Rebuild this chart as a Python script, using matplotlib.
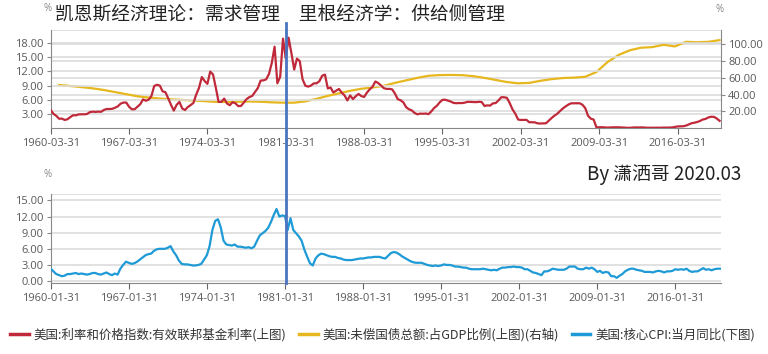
import numpy as np
import pandas as pd
import matplotlib
matplotlib.use('Agg')
import matplotlib.pyplot as plt
from matplotlib.lines import Line2D

plt.rcParams['font.family'] = ['Noto Sans CJK SC', 'DejaVu Sans']

# Effective federal funds rate, quarter-end months (%), 1960Q1 - 2019Q4
ffr = [3.84, 3.00, 2.60, 1.98, 2.02, 1.73, 1.88, 2.33, 2.72, 2.71, 2.90, 2.93,
       2.92, 2.99, 3.38, 3.48, 3.43, 3.49, 3.45, 3.85, 4.04, 4.04, 4.08, 4.32,
       4.60, 5.17, 5.40, 5.40, 4.53, 3.98, 3.99, 4.51, 5.05, 6.07, 5.78, 6.02,
       6.79, 8.90, 9.15, 8.97, 7.76, 7.60, 6.29, 4.90, 3.71, 4.91, 5.55, 4.14,
       3.83, 4.46, 4.87, 5.33, 7.09, 8.49, 10.78, 9.95, 9.35, 11.93, 11.34, 8.53,
       5.54, 5.55, 6.24, 5.20, 4.84, 5.48, 5.25, 4.65, 4.69, 5.39, 6.14, 6.56,
       6.79, 7.60, 8.45, 10.03, 10.09, 10.29, 11.43, 13.78, 17.19, 9.47, 10.87, 18.90,
       14.70, 19.10, 15.87, 12.37, 14.68, 14.15, 10.31, 8.95, 8.77, 8.98, 9.45, 9.47,
       9.91, 11.06, 11.30, 8.38, 8.58, 7.53, 7.92, 8.27, 7.48, 6.92, 5.85, 6.91,
       6.13, 6.73, 7.22, 6.77, 6.58, 7.51, 8.19, 8.76, 9.85, 9.53, 9.02, 8.45,
       8.28, 8.29, 8.20, 7.31, 6.12, 5.90, 5.45, 4.43, 3.98, 3.76, 3.22, 2.92,
       3.07, 3.04, 3.09, 2.96, 3.53, 4.25, 4.73, 5.45, 5.98, 6.00, 5.80, 5.60,
       5.31, 5.27, 5.30, 5.29, 5.39, 5.56, 5.54, 5.50, 5.49, 5.56, 5.51, 4.68,
       4.81, 4.76, 5.22, 5.30, 5.85, 6.53, 6.52, 6.40, 5.31, 3.97, 3.07, 1.82,
       1.73, 1.75, 1.75, 1.24, 1.25, 1.22, 1.01, 0.98, 1.00, 1.03, 1.61, 2.16,
       2.63, 3.04, 3.62, 4.16, 4.59, 4.99, 5.25, 5.24, 5.26, 5.25, 4.94, 4.24,
       2.61, 2.00, 1.81, 0.16, 0.18, 0.21, 0.15, 0.12, 0.16, 0.18, 0.19, 0.18,
       0.14, 0.09, 0.08, 0.07, 0.13, 0.16, 0.14, 0.16, 0.14, 0.09, 0.08, 0.09,
       0.08, 0.10, 0.09, 0.12, 0.11, 0.13, 0.14, 0.24, 0.36, 0.38, 0.40, 0.54,
       0.79, 1.04, 1.15, 1.30, 1.51, 1.82, 1.95, 2.27, 2.41, 2.38, 2.04, 1.55]

# Federal debt / GDP (%), year end, 1960 - 2019
debt = [51.5, 50.3, 49.0, 47.5, 45.5, 43.0, 40.5, 38.0, 36.5, 35.3,
        34.4, 33.7, 33.0, 32.2, 31.3, 31.2, 31.5, 31.8, 31.5, 30.8,
        30.4, 30.4, 32.0, 35.0, 38.5, 41.5, 44.5, 47.0, 48.5, 50.5,
        54.0, 57.0, 60.0, 62.5, 63.3, 63.5, 63.2, 62.0, 60.0, 57.5,
        55.0, 53.5, 54.0, 56.5, 58.5, 59.8, 60.3, 61.3, 67.0, 79.0,
        87.5, 93.0, 96.0, 96.7, 99.5, 97.5, 103.0, 102.5, 103.0, 105.0]

# Core CPI yoy (%), every third month from 1960-01 to 2020-01
cpi = [2.3, 1.8, 1.3, 1.1, 0.9, 1.0, 1.3, 1.3, 1.4, 1.5, 1.3, 1.4,
       1.3, 1.2, 1.3, 1.5, 1.5, 1.3, 1.2, 1.4, 1.6, 1.3, 1.1, 1.4,
       1.2, 2.3, 3.0, 3.6, 3.4, 3.2, 3.3, 3.6, 4.0, 4.4, 4.8, 5.0,
       5.1, 5.6, 5.9, 6.0, 6.0, 6.0, 6.2, 6.5, 5.5, 4.8, 3.8, 3.2,
       3.1, 3.1, 3.0, 2.9, 2.9, 3.0, 3.2, 4.0, 4.8, 6.5, 9.5, 11.2,
       11.5, 10.0, 7.5, 6.8, 6.7, 6.6, 6.8, 6.4, 6.4, 6.3, 6.2, 6.3,
       6.1, 6.4, 7.5, 8.5, 8.9, 9.3, 9.9, 11.0, 12.3, 13.4, 12.0, 12.2,
       12.1, 9.5, 11.7, 9.5, 8.9, 8.3, 7.5, 5.8, 4.5, 3.3, 2.9, 4.2,
       4.8, 5.1, 5.0, 4.8, 4.6, 4.5, 4.5, 4.3, 4.2, 4.0, 3.9, 3.9,
       3.9, 4.0, 4.1, 4.2, 4.2, 4.3, 4.4, 4.4, 4.5, 4.5, 4.5, 4.3,
       4.2, 4.7, 5.2, 5.4, 5.3, 5.0, 4.6, 4.3, 4.0, 3.7, 3.5, 3.4,
       3.4, 3.4, 3.2, 3.0, 2.9, 2.8, 2.9, 2.8, 2.9, 3.1, 3.0, 3.0,
       2.9, 2.7, 2.7, 2.6, 2.5, 2.5, 2.3, 2.2, 2.2, 2.2, 2.2, 2.3,
       2.2, 2.1, 2.0, 2.1, 2.0, 2.3, 2.5, 2.5, 2.6, 2.6, 2.7, 2.6,
       2.6, 2.5, 2.2, 2.2, 1.9, 1.6, 1.5, 1.3, 1.1, 1.8, 1.8, 2.0,
       2.3, 2.2, 2.1, 2.1, 2.1, 2.3, 2.7, 2.7, 2.7, 2.3, 2.2, 2.2,
       2.5, 2.3, 2.5, 2.2, 1.7, 1.9, 1.5, 1.7, 1.6, 0.9, 0.9, 0.6,
       1.0, 1.3, 1.8, 2.1, 2.3, 2.3, 2.1, 2.0, 1.9, 1.7, 1.7, 1.7,
       1.6, 1.8, 1.9, 1.8, 1.6, 1.8, 1.8, 1.9, 2.2, 2.1, 2.2, 2.1,
       2.3, 1.9, 1.7, 1.8, 1.8, 2.1, 2.4, 2.1, 2.2, 2.0, 2.2, 2.3, 2.3]

top_ticks = ['1960-03-31', '1967-03-31', '1974-03-31', '1981-03-31', '1988-03-31',
             '1995-03-31', '2002-03-31', '2009-03-31', '2016-03-31']
bot_ticks = ['1960-01-31', '1967-01-31', '1974-01-31', '1981-01-31', '1988-01-31',
             '1995-01-31', '2002-01-31', '2009-01-31', '2016-01-31']

labels = ['美国:利率和价格指数:有效联邦基金利率(上图)',
          '美国:未偿国债总额:占GDP比例(上图)(右轴)',
          '美国:核心CPI:当月同比(下图)']

RED = '#C0293A'
YEL = '#E6B71E'
BLU = '#1E9AD6'
GRID = '#DCDCDC'
TXT = '#595959'

ffr_d = pd.date_range('1960-03-31', periods=len(ffr), freq='QE-DEC')
debt_d = pd.date_range('1960-12-31', periods=len(debt), freq='YE')
cpi_d = pd.date_range('1960-01-31', periods=len(cpi), freq='3ME')

fig = plt.figure(figsize=(7.68, 3.54), dpi=100)
ax1 = fig.add_axes([0.066, 0.638, 0.873, 0.277])
ax1r = ax1.twinx()
ax2 = fig.add_axes([0.066, 0.200, 0.873, 0.252])

tick_font = dict(family='Open Sans', size=8, color=TXT)


def style(ax, yt, ylim):
    ax.set_ylim(*ylim)
    ax.set_yticks(yt)
    ax.set_yticklabels(['%.2f' % v for v in yt], **tick_font)
    ax.grid(axis='y', color=GRID, lw=1.2)
    ax.set_axisbelow(True)
    for s in ['top', 'right']:
        ax.spines[s].set_visible(False)
    ax.spines['left'].set_color('#888888')
    ax.spines['bottom'].set_color('#888888')
    ax.tick_params(axis='y', length=3, color='#888888', pad=2)
    ax.tick_params(axis='x', length=4, color='#666666', pad=3)


# top panel
ax1.plot(ffr_d, ffr, color=RED, lw=1.6, zorder=3)
ax1r.plot(debt_d, debt, color=YEL, lw=1.6, zorder=2)
ax1.set_zorder(ax1r.get_zorder() + 1)
ax1.patch.set_visible(False)
style(ax1, [3, 6, 9, 12, 15, 18], (0, 20.7))
ax1.axhline(20.7, color=GRID, lw=1.2)
ax1r.set_ylim(0, 117)
ax1r.set_yticks([20, 40, 60, 80, 100])
ax1r.set_yticklabels(['%.2f' % v for v in [20, 40, 60, 80, 100]], **tick_font)
ax1r.grid(axis='y', color=GRID, lw=1.2)
for s in ['top', 'left', 'bottom']:
    ax1r.spines[s].set_visible(False)
ax1r.spines['right'].set_color('#888888')
ax1r.tick_params(axis='y', length=3, color='#888888', pad=2)

ax1.set_xlim(pd.Timestamp('1960-03-31'), pd.Timestamp('2020-02-20'))
ax1.set_xticks(pd.to_datetime(top_ticks))
ax1.set_xticklabels(top_ticks, **tick_font)

# bottom panel
ax2.plot(cpi_d, cpi, color=BLU, lw=1.6, zorder=3)
style(ax2, [0, 3, 6, 9, 12, 15], (-0.4, 16.2))
ax2.axhline(16.2, color=GRID, lw=1.2)
ax2.set_xlim(pd.Timestamp('1960-01-31'), pd.Timestamp('2020-03-10'))
ax2.set_xticks(pd.to_datetime(bot_ticks))
ax2.set_xticklabels(bot_ticks, **tick_font)

# texts
fig.text(0.072, 0.96, '凯恩斯经济理论：需求管理　里根经济学：供给侧管理',
         fontsize=13.5, color='#222222', ha='left', va='center')
fig.text(0.056, 0.975, '%', fontsize=7, color='#888888', family='Open Sans',
         ha='left', va='center')
fig.text(0.932, 0.972, '%', fontsize=7, color='#888888', family='Open Sans',
         ha='left', va='center')
fig.text(0.057, 0.508, '%', fontsize=7, color='#888888', family='Open Sans',
         ha='left', va='center')
fig.text(0.965, 0.506, 'By 潇洒哥 2020.03', fontsize=13.5, color='#222222',
         ha='right', va='center')

# vertical marker line at 1981-03-31
xd = matplotlib.dates.date2num(pd.Timestamp('1981-03-31'))
xf = fig.transFigure.inverted().transform(ax1.transData.transform((xd, 0)))[0]
fig.add_artist(Line2D([xf, xf], [0.2, 0.935], color='#4A74C0', lw=2.0, zorder=10))

handles = [Line2D([], [], color=c, lw=2.5) for c in (RED, YEL, BLU)]
fig.legend(handles, labels, loc='center', bbox_to_anchor=(0.498, 0.054), ncol=3,
           frameon=False, fontsize=9, handlelength=1.5, handletextpad=0.4,
           columnspacing=1.0, borderpad=0.1, labelcolor='#333333')

fig.savefig('out.png', dpi=100)
